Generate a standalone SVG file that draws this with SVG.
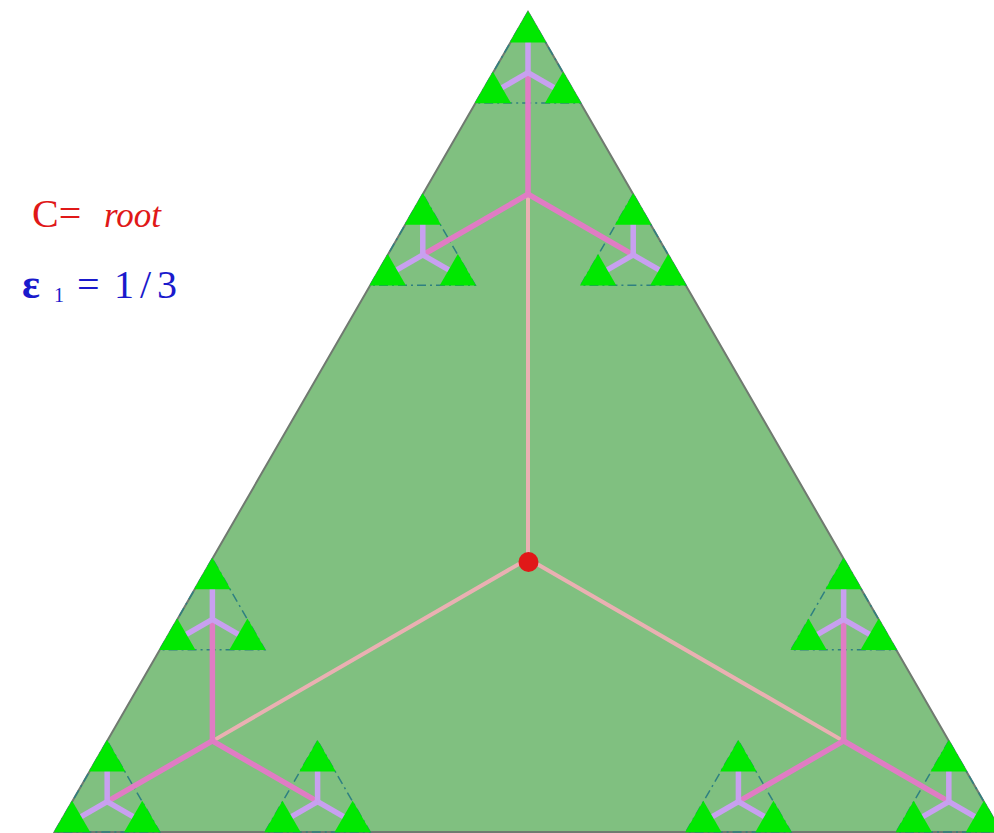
<svg xmlns="http://www.w3.org/2000/svg" xmlns:xlink="http://www.w3.org/1999/xlink" width="994" height="833" viewBox="0 0 994 833">
<style>
.big{fill:#80c080;stroke:#707a70;stroke-width:2}
.dd{fill:none;stroke:#2e8080;stroke-width:1.5;stroke-dasharray:9,4,2,4}
.root{stroke:#eab0b2;stroke-width:4;stroke-linecap:round}
.pink{stroke:#e07cc4;stroke-width:5.5;stroke-linecap:round}
.purp{stroke:#c8a0f0;stroke-width:5.5;stroke-linecap:butt}
.g3{fill:#00e800}
.t{font-family:"Liberation Serif",serif;font-size:38px}
</style>
<defs>
<polygon id="o2" class="dd" points="0,0 -52.6,91.11 52.6,91.11"/>
<polygon id="t3" class="g3" points="0,-1 -18.2,30.6 18.2,30.6"/>
<g id="pt">
<line class="purp" x1="0" y1="60.74" x2="0" y2="20.25"/>
<line class="purp" x1="0" y1="60.74" x2="-35.07" y2="80.99"/>
<line class="purp" x1="0" y1="60.74" x2="35.07" y2="80.99"/>
</g>
<g id="gr">
<use xlink:href="#t3" x="0" y="0"/>
<use xlink:href="#t3" x="-35.07" y="60.74"/>
<use xlink:href="#t3" x="35.07" y="60.74"/>
</g>
<g id="pk">
<line class="pink" x1="0" y1="182.22" x2="0" y2="60.74"/>
<line class="pink" x1="0" y1="182.22" x2="-105.21" y2="242.96"/>
<line class="pink" x1="0" y1="182.22" x2="105.21" y2="242.96"/>
</g>
</defs>
<g id="outer">
<polygon class="big" points="528,12 54.6,832 1001.4,832"/>
</g>
<g id="outlines">
<use xlink:href="#o2" x="528" y="12"/>
<use xlink:href="#o2" x="422.79" y="194.22"/>
<use xlink:href="#o2" x="633.21" y="194.22"/>
<use xlink:href="#o2" x="212.38" y="558.67"/>
<use xlink:href="#o2" x="107.17" y="740.89"/>
<use xlink:href="#o2" x="317.59" y="740.89"/>
<use xlink:href="#o2" x="843.62" y="558.67"/>
<use xlink:href="#o2" x="738.41" y="740.89"/>
<use xlink:href="#o2" x="948.83" y="740.89"/>
</g>
<g id="connectors">
<line class="root" x1="528" y1="558.67" x2="528" y2="194.22"/>
<line class="root" x1="528" y1="558.67" x2="212.38" y2="741.11"/>
<line class="root" x1="528" y1="558.67" x2="843.62" y2="741.11"/>
<use xlink:href="#pk" x="528" y="12"/>
<use xlink:href="#pk" x="212.38" y="558.67"/>
<use xlink:href="#pk" x="843.62" y="558.67"/>
<use xlink:href="#pt" x="528" y="12"/>
<use xlink:href="#pt" x="422.79" y="194.22"/>
<use xlink:href="#pt" x="633.21" y="194.22"/>
<use xlink:href="#pt" x="212.38" y="558.67"/>
<use xlink:href="#pt" x="107.17" y="740.89"/>
<use xlink:href="#pt" x="317.59" y="740.89"/>
<use xlink:href="#pt" x="843.62" y="558.67"/>
<use xlink:href="#pt" x="738.41" y="740.89"/>
<use xlink:href="#pt" x="948.83" y="740.89"/>
</g>
<g id="top">
<use xlink:href="#gr" x="528" y="12"/>
<use xlink:href="#gr" x="422.79" y="194.22"/>
<use xlink:href="#gr" x="633.21" y="194.22"/>
</g>
<g id="left">
<use xlink:href="#gr" x="212.38" y="558.67"/>
<use xlink:href="#gr" x="107.17" y="740.89"/>
<use xlink:href="#gr" x="317.59" y="740.89"/>
</g>
<g id="right">
<use xlink:href="#gr" x="843.62" y="558.67"/>
<use xlink:href="#gr" x="738.41" y="740.89"/>
<use xlink:href="#gr" x="948.83" y="740.89"/>
</g>
<g id="root-node">
<circle cx="528.5" cy="562" r="10" fill="#e01818"/>
</g>
<g id="labels">
<text class="t" fill="#e01818" y="227"><tspan x="32" font-size="40">C=</tspan><tspan x="104" font-style="italic" font-size="35">root</tspan></text>
<text class="t" fill="#1a1acc" y="298"><tspan x="22" font-weight="bold" font-size="42">ε</tspan><tspan x="54" y="302" font-size="20">1</tspan><tspan x="77" y="298" font-size="40">=</tspan><tspan x="114" font-size="40" letter-spacing="6">1/3</tspan></text>
</g>
</svg>
